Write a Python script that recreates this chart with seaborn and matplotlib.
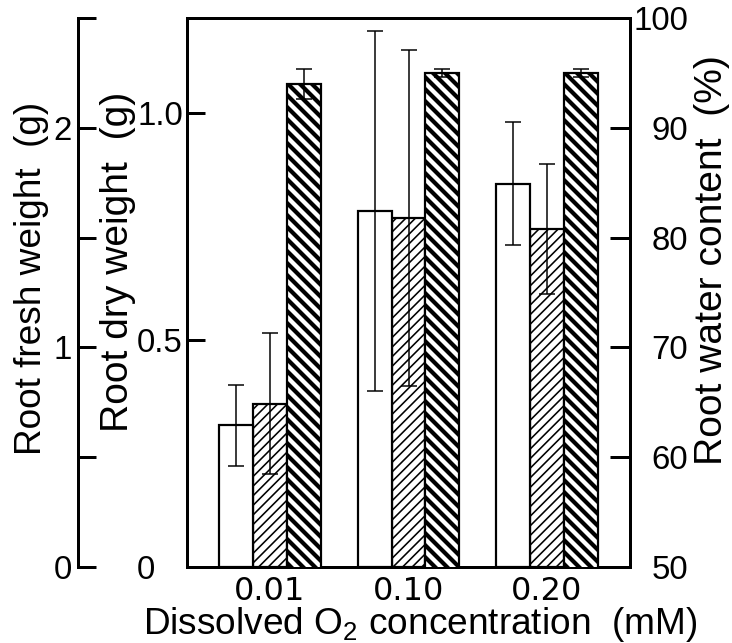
import numpy as np
import pandas as pd
import matplotlib
matplotlib.use("Agg")
import matplotlib.pyplot as plt
import seaborn as sns
from matplotlib.ticker import FixedLocator

# ---- data ----
categories = ["0.01", "0.10", "0.20"]
series = ["fresh", "dry", "water"]
fresh_weight = [0.645, 1.62, 1.745]
fresh_err = [0.185, 0.82, 0.28]
dry_weight = [0.36, 0.77, 0.745]
dry_err = [0.155, 0.37, 0.143]
water_content = [94.0, 95.0, 95.0]
water_err = [1.4, 0.4, 0.4]

fresh_ticks = [0, 0.5, 1.0, 1.5, 2.0, 2.5]
fresh_ticklabels = ["0", "", "1", "", "2", ""]
dry_ticks = [0, 0.5, 1.0]
dry_ticklabels = ["0", "0.5", "1.0"]
water_ticks = [50, 60, 70, 80, 90, 100]
water_ticklabels = ["50", "60", "70", "80", "90", "100"]

DPI = 144
sns.set_theme(style="white")
plt.rcParams["font.family"] = ["Liberation Sans", "DejaVu Sans"]
plt.rcParams["mathtext.default"] = "regular"
plt.rcParams["hatch.color"] = "black"

fig = plt.figure(figsize=(732 / DPI, 643 / DPI), dpi=DPI)
L, R, B, T = 187 / 732, 630 / 732, (643 - 567) / 643, (643 - 18) / 643
ax = fig.add_axes([L, B, R - L, T - B])
ax_fresh = ax.twinx()
ax_water = ax.twinx()

FS = 16.5
LFS = 18.5
hatches = {"fresh": "", "dry": "/////", "water": "\\\\\\\\"}
hatch_lw = {"fresh": 0.7, "dry": 0.8, "water": 2.1}


def draw(target, name, vals, errs):
    df = pd.DataFrame({"conc": categories, "value": vals, "series": name})
    n0 = len(target.patches)
    sns.barplot(data=df, x="conc", y="value", hue="series", hue_order=series,
                order=categories, width=0.735, dodge=True, errorbar=None,
                palette=["white"] * 3, edgecolor="black",
                linewidth=1.1, legend=False, ax=target, saturation=1)
    new = [p for p in target.patches[n0:] if p.get_height() > 0]
    xs = []
    for p in new:
        p.set_hatch(hatches[name])
        p.set_facecolor("white")
        if hasattr(p, "set_hatch_linewidth"):
            p.set_hatch_linewidth(hatch_lw[name])
        xs.append(p.get_x() + p.get_width() / 2)
    xs = np.sort(np.array(xs))
    target.errorbar(xs, vals, yerr=errs, fmt="none", ecolor="black",
                    elinewidth=0.75, capsize=4.2, capthick=0.75, zorder=5)


draw(ax, "dry", dry_weight, dry_err)
draw(ax_fresh, "fresh", fresh_weight, fresh_err)
draw(ax_water, "water", water_content, water_err)

for a in (ax, ax_fresh, ax_water):
    a.set_xlim(-0.6, 2.6)
    a.set_xlabel("")
    a.set_ylabel("")
    a.grid(False)
    a.patch.set_visible(False)

ax.set_ylim(0, 1.21)
ax_fresh.set_ylim(0, 2.5)
ax_water.set_ylim(50, 100)

# spines
for s in ("left", "right", "top", "bottom"):
    ax.spines[s].set_linewidth(1.5)
    ax.spines[s].set_color("black")
ax.spines["right"].set_visible(False)
for s in ("right", "top", "bottom"):
    ax_fresh.spines[s].set_visible(False)
ax_fresh.spines["left"].set_visible(True)
ax_fresh.spines["left"].set_position(("outward", 109 * 72 / DPI))
ax_fresh.spines["left"].set_linewidth(1.5)
ax_fresh.spines["left"].set_color("black")
ax_fresh.yaxis.set_ticks_position("left")
ax_fresh.yaxis.set_label_position("left")
for s in ("left", "top", "bottom"):
    ax_water.spines[s].set_visible(False)
ax_water.spines["right"].set_visible(True)
ax_water.spines["right"].set_linewidth(1.5)
ax_water.spines["right"].set_color("black")

# ticks
TL = 9
ax.yaxis.set_major_locator(FixedLocator(dry_ticks))
ax.set_yticklabels(dry_ticklabels)
ax.tick_params(axis="y", direction="in", length=TL, width=1.5, pad=25,
               labelsize=FS, left=True, labelleft=True, colors="black")
for lbl in ax.get_yticklabels():
    lbl.set_horizontalalignment("left")
ax.tick_params(axis="x", length=0, pad=4.5, labelsize=16, colors="black")
ax.set_xticks(range(len(categories)))
ax.set_xticklabels(categories, family=["DejaVu Sans"])

ax_fresh.yaxis.set_major_locator(FixedLocator(fresh_ticks))
ax_fresh.set_yticklabels(fresh_ticklabels)
ax_fresh.tick_params(axis="y", direction="in", length=TL, width=1.5, pad=3,
                     labelsize=FS, left=True, right=False, labelleft=True,
                     labelright=False, colors="black")
ax_fresh.tick_params(axis="x", length=0, labelbottom=False)

ax_water.yaxis.set_major_locator(FixedLocator(water_ticks))
ax_water.set_yticklabels(water_ticklabels)
ax_water.tick_params(axis="y", direction="in", length=TL + 1, width=1.5,
                     pad=29, labelsize=FS, right=True, labelright=True,
                     colors="black")
for lbl in ax_water.get_yticklabels():
    lbl.set_horizontalalignment("right")
ax_water.tick_params(axis="x", length=0, labelbottom=False)

# axis labels
ax_fresh.set_ylabel("Root fresh weight  (g)", fontsize=LFS, color="black")
ax_fresh.yaxis.set_label_coords((32 - 187) / 443, (567 - 278) / 549)
ax_fresh.yaxis.label.set_va("center")
ax.set_ylabel("Root dry weight  (g)", fontsize=LFS + 1, color="black")
ax.yaxis.set_label_coords((118 - 187) / 443, (567 - 262) / 549)
ax.yaxis.label.set_va("center")
ax_water.set_ylabel("Root water content  (%)", fontsize=LFS + 1, color="black")
ax_water.yaxis.set_label_coords((712 - 187) / 443, (567 - 260) / 549)
ax_water.yaxis.label.set_va("center")

ax.set_xlabel("Dissolved O$_2$ concentration  (mM)", fontsize=18.5,
              color="black", labelpad=0)
ax.xaxis.set_label_coords((420 - 187) / 443, (567 - 625) / 549)
ax.xaxis.label.set_va("center")

fig.savefig("out.png", dpi=DPI, facecolor="white")
